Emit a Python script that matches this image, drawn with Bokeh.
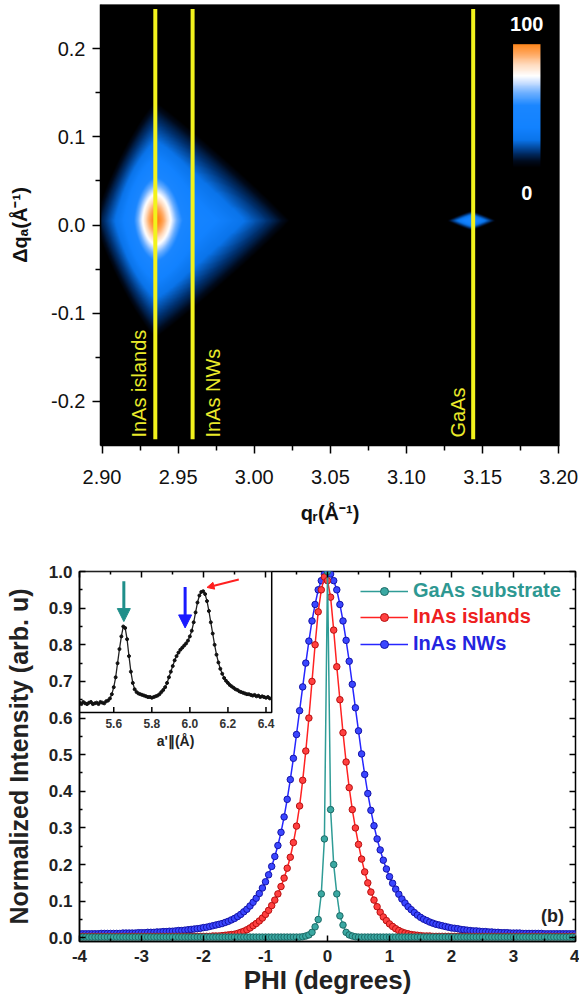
import numpy as np
from bokeh.plotting import figure
from bokeh.models import (Range1d, LinearAxis, FixedTicker, LinearColorMapper, Legend, LegendItem,
                          Arrow, NormalHead, CustomJSTickFormatter)
from bokeh.core.properties import value
from bokeh.embed import file_html
from bokeh.resources import INLINE

FONT = "Liberation Sans"

# ---------------- panel (a): reciprocal space map ----------------
qr_range = (2.899, 3.2005)
dqa_range = (-0.25, 0.25)
qr_ticks = [2.90, 2.95, 3.00, 3.05, 3.10, 3.15, 3.20]
dqa_ticks = [-0.2, -0.1, 0.0, 0.1, 0.2]
line_names = ["InAs islands", "InAs NWs", "GaAs"]
line_qr = [2.935, 2.9595, 3.1438]
label_qr = [2.9242, 2.9727, 3.1335]

# diffuse peaks (centre, extents to the left/right/up/down, edge shape, amplitude)
peak_qr = [2.935, 3.143]
peak_dqa = [0.005, 0.005]
peak_left = [0.040, 0.016]
peak_right = [0.088, 0.016]
peak_up = [0.135, 0.011]
peak_down = [0.133, 0.011]
peak_shape_left = [1.2, 1.1]
peak_shape_right = [1.05, 1.1]
peak_amp = [0.52, 0.45]
core_qr, core_dqa, core_wx, core_wy, core_amp = 2.935, 0.007, 0.0125, 0.042, 0.5

cmap_pos = [0.0, 0.05, 0.12, 0.22, 0.32, 0.50, 0.60, 0.68, 0.74, 0.83, 0.92, 1.0]
cmap_colors = ["#000000", "#000a1c", "#00306e", "#0a74ea", "#1282ff", "#1a86ff",
               "#6aaeff", "#c4dcff", "#ffffff", "#ffdcc0", "#ffa860", "#ff8418"]
cbar_labels = ["100", "0"]

# ---------------- panel (b): phi scans ----------------
phi = np.round(np.arange(-4.0, 4.0001, 0.05), 2)
nws = [
    0.011, 0.011, 0.011, 0.011, 0.011, 0.011, 0.011, 0.012, 0.012, 0.012,
    0.012, 0.012, 0.012, 0.012, 0.013, 0.013, 0.013, 0.013, 0.013, 0.014,
    0.014, 0.014, 0.015, 0.015, 0.015, 0.016, 0.016, 0.017, 0.017, 0.018,
    0.018, 0.019, 0.020, 0.020, 0.021, 0.022, 0.023, 0.024, 0.025, 0.026,
    0.028, 0.029, 0.031, 0.033, 0.035, 0.037, 0.039, 0.042, 0.045, 0.049,
    0.053, 0.058, 0.064, 0.071, 0.078, 0.087, 0.097, 0.108, 0.121, 0.136,
    0.153, 0.172, 0.195, 0.222, 0.252, 0.288, 0.330, 0.378, 0.432, 0.490,
    0.555, 0.620, 0.685, 0.750, 0.810, 0.865, 0.910, 0.950, 0.975, 0.993,
    1.000,
    0.993, 0.975, 0.950, 0.910, 0.865, 0.812, 0.755, 0.692, 0.628, 0.565,
    0.502, 0.446, 0.394, 0.348, 0.306, 0.270, 0.240, 0.212, 0.188, 0.167,
    0.149, 0.133, 0.119, 0.106, 0.095, 0.085, 0.077, 0.069, 0.062, 0.056,
    0.051, 0.047, 0.043, 0.040, 0.037, 0.035, 0.033, 0.031, 0.029, 0.027,
    0.026, 0.025, 0.023, 0.022, 0.021, 0.020, 0.019, 0.019, 0.018, 0.017,
    0.017, 0.016, 0.016, 0.015, 0.015, 0.014, 0.014, 0.014, 0.013, 0.013,
    0.013, 0.013, 0.012, 0.012, 0.012, 0.012, 0.012, 0.012, 0.012, 0.011,
    0.011, 0.011, 0.011, 0.011, 0.011, 0.011, 0.011, 0.011, 0.011, 0.011,
]
islands = [
    0.004, 0.004, 0.004, 0.004, 0.004, 0.004, 0.004, 0.004, 0.004, 0.004,
    0.004, 0.004, 0.004, 0.004, 0.004, 0.004, 0.004, 0.004, 0.004, 0.004,
    0.004, 0.004, 0.004, 0.004, 0.004, 0.004, 0.004, 0.004, 0.004, 0.004,
    0.004, 0.004, 0.004, 0.004, 0.004, 0.004, 0.004, 0.004, 0.004, 0.004,
    0.004, 0.004, 0.004, 0.005, 0.005, 0.005, 0.006, 0.007, 0.008, 0.009,
    0.010, 0.012, 0.015, 0.018, 0.022, 0.027, 0.033, 0.039, 0.046, 0.054,
    0.064, 0.075, 0.088, 0.103, 0.120, 0.140, 0.163, 0.190, 0.220, 0.260,
    0.305, 0.360, 0.430, 0.510, 0.600, 0.700, 0.800, 0.890, 0.950, 0.985,
    0.975,
    0.930, 0.840, 0.740, 0.650, 0.560, 0.480, 0.410, 0.350, 0.300, 0.255,
    0.215, 0.180, 0.150, 0.125, 0.103, 0.085, 0.070, 0.057, 0.047, 0.038,
    0.031, 0.025, 0.020, 0.016, 0.013, 0.011, 0.009, 0.008, 0.007, 0.006,
    0.005, 0.005, 0.005, 0.004, 0.004, 0.004, 0.004, 0.004, 0.004, 0.004,
    0.004, 0.004, 0.004, 0.004, 0.004, 0.004, 0.004, 0.004, 0.004, 0.004,
    0.004, 0.004, 0.004, 0.004, 0.004, 0.004, 0.004, 0.004, 0.004, 0.004,
    0.004, 0.004, 0.004, 0.004, 0.004, 0.004, 0.004, 0.004, 0.004, 0.004,
    0.004, 0.004, 0.004, 0.004, 0.004, 0.004, 0.004, 0.004, 0.004, 0.004,
]
gaas = [
    0.002, 0.002, 0.002, 0.002, 0.002, 0.002, 0.002, 0.002, 0.002, 0.002,
    0.002, 0.002, 0.002, 0.002, 0.002, 0.002, 0.002, 0.002, 0.002, 0.002,
    0.002, 0.002, 0.002, 0.002, 0.002, 0.002, 0.002, 0.002, 0.002, 0.002,
    0.002, 0.002, 0.002, 0.002, 0.002, 0.002, 0.002, 0.002, 0.002, 0.002,
    0.002, 0.002, 0.002, 0.002, 0.002, 0.002, 0.002, 0.002, 0.002, 0.002,
    0.002, 0.002, 0.002, 0.002, 0.002, 0.002, 0.002, 0.002, 0.002, 0.002,
    0.002, 0.002, 0.002, 0.002, 0.002, 0.002, 0.002, 0.002, 0.002, 0.002,
    0.002, 0.002, 0.003, 0.005, 0.008, 0.015, 0.030, 0.050, 0.120, 0.270,
    1.000,
    0.350, 0.200, 0.120, 0.060, 0.035, 0.015, 0.008, 0.005, 0.003, 0.002,
    0.002, 0.002, 0.002, 0.002, 0.002, 0.002, 0.002, 0.002, 0.002, 0.002,
    0.002, 0.002, 0.002, 0.002, 0.002, 0.002, 0.002, 0.002, 0.002, 0.002,
    0.002, 0.002, 0.002, 0.002, 0.002, 0.002, 0.002, 0.002, 0.002, 0.002,
    0.002, 0.002, 0.002, 0.002, 0.002, 0.002, 0.002, 0.002, 0.002, 0.002,
    0.002, 0.002, 0.002, 0.002, 0.002, 0.002, 0.002, 0.002, 0.002, 0.002,
    0.002, 0.002, 0.002, 0.002, 0.002, 0.002, 0.002, 0.002, 0.002, 0.002,
    0.002, 0.002, 0.002, 0.002, 0.002, 0.002, 0.002, 0.002, 0.002, 0.002,
]
series_names = ["GaAs substrate", "InAs islands", "InAs NWs"]
phi_ticks = [-4, -3, -2, -1, 0, 1, 2, 3, 4]
int_ticks = [0.0, 0.1, 0.2, 0.3, 0.4, 0.5, 0.6, 0.7, 0.8, 0.9, 1.0]

# inset: intensity vs in-plane lattice parameter
inset_a = np.round(np.arange(5.42, 6.4201, 0.01), 2)
inset_i = [
    0.07, 0.06, 0.075, 0.065, 0.06, 0.07, 0.075, 0.06, 0.065, 0.07,
    0.06, 0.075, 0.07, 0.065, 0.08, 0.085, 0.10, 0.13, 0.18, 0.25,
    0.35, 0.45, 0.54, 0.61, 0.60, 0.52, 0.40, 0.29, 0.21, 0.165,
    0.145, 0.135, 0.13, 0.125, 0.12, 0.115, 0.11, 0.11, 0.105, 0.11,
    0.115, 0.12, 0.13, 0.145, 0.16, 0.18, 0.21, 0.25, 0.29, 0.33,
    0.37, 0.40, 0.425, 0.445, 0.46, 0.475, 0.49, 0.51, 0.54, 0.58,
    0.64, 0.71, 0.78, 0.83, 0.855, 0.86, 0.84, 0.79, 0.72, 0.64,
    0.56, 0.48, 0.41, 0.355, 0.31, 0.275, 0.245, 0.225, 0.21, 0.195,
    0.185, 0.175, 0.165, 0.16, 0.15, 0.145, 0.14, 0.135, 0.13, 0.13,
    0.125, 0.12, 0.125, 0.115, 0.12, 0.11, 0.115, 0.11, 0.105, 0.11, 0.10,
]
inset_ticks = [5.6, 5.8, 6.0, 6.2, 6.4]
inset_a_range = (5.42, 6.43)
arrow_a = [5.653, 5.975]          # GaAs and NW arrows
island_peak_a = 6.09

# ====================== drawing ======================
def hex2rgb(h):
    return [int(h[i:i + 2], 16) for i in (1, 3, 5)]

rgb = np.array([hex2rgb(c) for c in cmap_colors], dtype=float)
palette = ["#%02x%02x%02x" % tuple(int(round(np.interp(t, cmap_pos, rgb[:, k]))) for k in range(3))
           for t in np.linspace(0, 1, 256)]
mapper = LinearColorMapper(palette=palette, low=0, high=1)

nx, ny = 460, 441
gx = np.linspace(qr_range[0], qr_range[1], nx)
gy = np.linspace(dqa_range[0], dqa_range[1], ny)
X, Y = np.meshgrid(gx, gy)
I = np.zeros_like(X)
for k in range(len(peak_qr)):
    dx = X - peak_qr[k]
    dy = Y - peak_dqa[k]
    u = np.abs(dx) / np.where(dx < 0, peak_left[k], peak_right[k])
    w = np.abs(dy) / np.where(dy > 0, peak_up[k], peak_down[k])
    pe = np.where(dx < 0, peak_shape_left[k], peak_shape_right[k])
    d = (u ** pe + w ** pe) ** (1.0 / pe)
    I += peak_amp[k] * np.clip(1.0 - d, 0, 1) ** 0.8
I += core_amp * np.exp(-((X - core_qr) / core_wx) ** 2 - ((Y - core_dqa) / core_wy) ** 2)
I = np.clip(I, 0, 1).astype(np.float32)

p1 = figure(width=579, height=540, x_range=Range1d(*qr_range), y_range=Range1d(*dqa_range),
            output_backend="svg", toolbar_location=None,
            min_border_left=100, min_border_right=20, min_border_top=4, min_border_bottom=95,
            background_fill_color="black", border_fill_color="white", outline_line_color=None)
p1.grid.visible = False
p1.image(image=[I], x=qr_range[0], y=dqa_range[0], dw=qr_range[1] - qr_range[0],
         dh=dqa_range[1] - dqa_range[0], color_mapper=mapper)

p1.segment(x0=line_qr, y0=[-0.243] * 3, x1=line_qr, y1=[0.245] * 3, line_color="#f2f21c", line_width=4)
p1.text(x=label_qr, y=[-0.241] * 3, text=line_names, angle=np.pi / 2, text_align="left",
        text_baseline="middle", text_color="#eaea2a", text_font=value(FONT), text_font_size="20px")

# colour scale
grad = np.linspace(0, 1, 256, dtype=np.float32).reshape(256, 1)
p1.image(image=[grad], x=3.170, y=0.065, dw=0.018, dh=0.14, color_mapper=mapper)
p1.text(x=[3.179, 3.179], y=[0.2276, 0.036], text=cbar_labels, text_align="center",
        text_baseline="middle", text_color="white", text_font=value(FONT),
        text_font_style="bold", text_font_size="20px")

def minors(t):
    return [(a + b) / 2 for a, b in zip(t[:-1], t[1:])]

xa = p1.xaxis[0]
xa.ticker = FixedTicker(ticks=qr_ticks, minor_ticks=minors(qr_ticks))
xa.formatter = CustomJSTickFormatter(code="return tick.toFixed(2);")
xa.axis_label = "q\u1d63(\u00c5\u207b\u00b9)"
ya = p1.yaxis[0]
ya.ticker = FixedTicker(ticks=dqa_ticks, minor_ticks=minors(dqa_ticks))
ya.formatter = CustomJSTickFormatter(code="return tick.toFixed(1);")
ya.axis_label = "\u0394q\u2090(\u00c5\u207b\u00b9)"
for ax in (xa, ya):
    ax.axis_line_width = 1.5
    ax.major_tick_out = 8
    ax.major_tick_in = 0
    ax.minor_tick_out = 5
    ax.minor_tick_in = 0
    ax.major_tick_line_width = 1.5
    ax.minor_tick_line_width = 1.5
    ax.major_label_text_font = FONT
    ax.major_label_text_font_size = "20px"
    ax.major_label_text_color = "#111111"
    ax.axis_label_text_font = FONT
    ax.axis_label_text_font_size = "20px"
    ax.axis_label_text_font_style = "bold"
    ax.axis_label_text_color = "#111111"
xa.major_label_standoff = 16
xa.axis_label_standoff = 15
ya.major_label_standoff = 7
ya.axis_label_standoff = 17

# ---------------- panel (b) ----------------
x_rng = (-4.0, 4.0)
y_rng = (-0.01, 1.0)
p2 = figure(width=579, height=458, x_range=Range1d(*x_rng), y_range=Range1d(*y_rng),
            output_backend="svg", toolbar_location=None,
            min_border_left=79, min_border_right=4, min_border_top=31, min_border_bottom=57,
            outline_line_color="black", outline_line_width=1.5, background_fill_color="white")
p2.grid.visible = False

# inset placement (in main data coordinates) and its own ranges
inset_main_right = -0.9
inset_main_bottom = 0.615
ix_end = inset_a_range[0] + (inset_a_range[1] - inset_a_range[0]) * (x_rng[1] - x_rng[0]) / (inset_main_right - x_rng[0])
iy_start = 1.0 - (y_rng[1] - y_rng[0]) / (y_rng[1] - inset_main_bottom)
p2.extra_x_ranges = {"ix": Range1d(inset_a_range[0], ix_end)}
p2.extra_y_ranges = {"iy": Range1d(iy_start, 1.0)}

styles = [
    ("NWs", nws, "#2626ff", "#3a46ff", "#1414a8", "#2424e0"),
    ("isl", islands, "#ff2222", "#ff4040", "#b81010", "#ee2020"),
    ("gaas", gaas, "#2f9c96", "#3aa8a2", "#1d6a66", "#2e9892"),
]
rend = {}
for key, vals, lc, fc, ec, tc in styles:
    lr = p2.line(phi, vals, line_color=lc, line_width=1.5)
    sr = p2.scatter(phi, vals, size=6.5, fill_color=fc, line_color=ec, line_width=1)
    rend[key] = (lr, sr, tc)

legend_y = [339, 313, 286]
for name, key, vy in zip(series_names, ["gaas", "isl", "NWs"], legend_y):
    lr, sr, tc = rend[key]
    leg = Legend(items=[LegendItem(label=name, renderers=[lr, sr])], location=(281, vy),
                 label_text_color=tc, label_text_font=FONT, label_text_font_size="20px",
                 label_text_font_style="bold", glyph_width=48, glyph_height=20, label_height=20,
                 label_standoff=5, padding=0, margin=0, spacing=0, border_line_color=None,
                 background_fill_alpha=0)
    p2.add_layout(leg)

p2.text(x=[3.63], y=[0.06], text=["(b)"], text_align="center", text_baseline="middle",
        text_font=value(FONT), text_font_style="bold", text_font_size="18px", text_color="#222222")

# inset
p2.quad(left=[x_rng[0]], right=[inset_main_right], bottom=[inset_main_bottom], top=[y_rng[1]],
        fill_color="white", line_color="black", line_width=1.5)
p2.line(inset_a, inset_i, x_range_name="ix", y_range_name="iy", line_color="#222222", line_width=1.3)
p2.scatter(inset_a, inset_i, x_range_name="ix", y_range_name="iy", size=3, fill_color="#111111",
           line_color="#111111")
p2.segment(x0=inset_ticks, y0=[0.0] * 5, x1=inset_ticks, y1=[0.04] * 5, x_range_name="ix",
           y_range_name="iy", line_color="black", line_width=1.5)
p2.text(x=inset_ticks, y=[-0.075] * 5, text=["%.1f" % t for t in inset_ticks], x_range_name="ix",
        y_range_name="iy", text_align="center", text_baseline="middle", text_font=value(FONT),
        text_font_style="bold", text_font_size="12px", text_color="#333333")
p2.text(x=[5.925], y=[-0.2], text=["a'\u2225(\u00c5)"], x_range_name="ix", y_range_name="iy",
        text_align="center", text_baseline="middle", text_font=value(FONT), text_font_style="bold",
        text_font_size="14px", text_color="#222222")
p2.add_layout(Arrow(end=NormalHead(size=13, fill_color="#1f8f8a", line_color="#1f8f8a"),
                    x_start=arrow_a[0], y_start=0.93, x_end=arrow_a[0], y_end=0.645,
                    line_color="#1f8f8a", line_width=3, x_range_name="ix", y_range_name="iy"))
p2.add_layout(Arrow(end=NormalHead(size=13, fill_color="#1a1aff", line_color="#1a1aff"),
                    x_start=arrow_a[1], y_start=0.89, x_end=arrow_a[1], y_end=0.60,
                    line_color="#1a1aff", line_width=3, x_range_name="ix", y_range_name="iy"))
p2.add_layout(Arrow(end=NormalHead(size=7, fill_color="#ff2020", line_color="#ff2020"),
                    x_start=6.257, y_start=0.943, x_end=island_peak_a, y_end=0.887,
                    line_color="#ff2020", line_width=2, x_range_name="ix", y_range_name="iy"))

xb = p2.xaxis[0]
xb.ticker = FixedTicker(ticks=phi_ticks, minor_ticks=minors(phi_ticks))
xb.formatter = CustomJSTickFormatter(code="return tick.toFixed(0);")
xb.axis_label = "PHI (degrees)"
yb = p2.yaxis[0]
yb.ticker = FixedTicker(ticks=int_ticks, minor_ticks=minors(int_ticks))
yb.formatter = CustomJSTickFormatter(code="return tick.toFixed(1);")
yb.axis_label = "Normalized Intensity (arb. u)"

top_ax = LinearAxis(ticker=FixedTicker(ticks=phi_ticks, minor_ticks=minors(phi_ticks)))
right_ax = LinearAxis(ticker=FixedTicker(ticks=int_ticks, minor_ticks=minors(int_ticks)))
for ax in (top_ax, right_ax):
    ax.major_label_text_font_size = "1px"
    ax.major_label_text_color = None
    ax.major_label_standoff = 0
    ax.axis_line_color = None
p2.add_layout(top_ax, "above")
p2.add_layout(right_ax, "right")

for ax in (xb, yb, top_ax, right_ax):
    ax.major_tick_in = 6
    ax.major_tick_out = 0
    ax.minor_tick_in = 3
    ax.minor_tick_out = 0
    ax.major_tick_line_width = 1.5
    ax.minor_tick_line_width = 1.5
for ax in (xb, yb):
    ax.axis_line_width = 1.5
    ax.major_label_text_font = FONT
    ax.major_label_text_font_size = "17px"
    ax.major_label_text_font_style = "bold"
    ax.major_label_text_color = "#222222"
    ax.axis_label_text_font = FONT
    ax.axis_label_text_font_style = "bold"
    ax.axis_label_text_color = "#222222"
yb.axis_label_text_font_size = "25px"
xb.axis_label_text_font_size = "26px"
xb.major_label_standoff = 8
xb.axis_label_standoff = 0
yb.major_label_standoff = 7
yb.axis_label_standoff = 13

# two independent roots stacked vertically (keeps each panel's own frame geometry)
open("out.html", "w").write(file_html([p1, p2], INLINE))
